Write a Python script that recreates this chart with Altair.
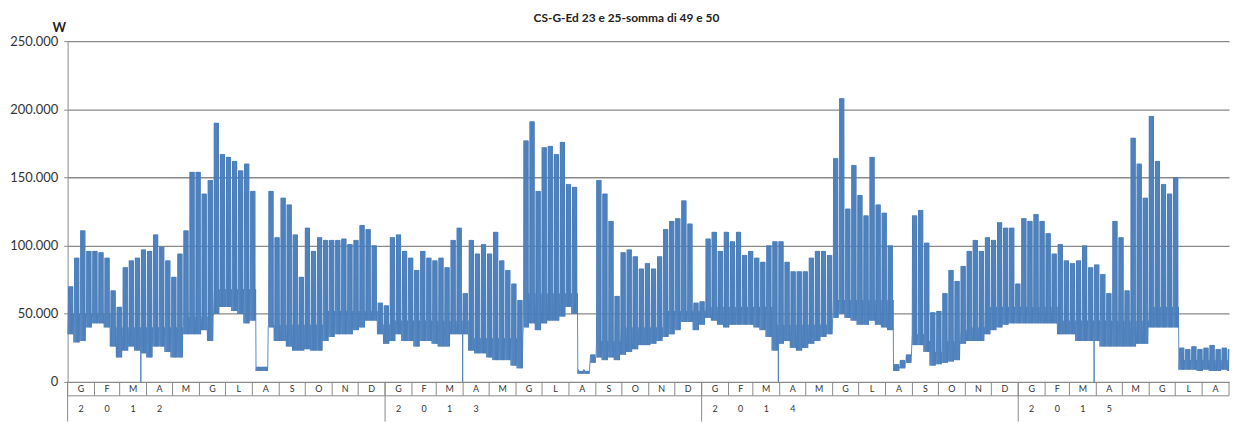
import altair as alt
import pandas as pd

TITLE = "CS-G-Ed 23 e 25-somma di 49 e 50"
START = "2012-01-01"
END = "2015-08-31"

# weekly values (kW), one entry per week starting Sunday 2012-01-01
PEAK_KW = [70, 91, 111, 96, 96, 95, 91, 67, 55, 84,
           89, 91, 97, 96, 108, 99, 89, 77, 94, 111,
           154, 154, 138, 148, 190, 167, 165, 162, 155, 160,
           140, 11, 11, 140, 106, 135, 130, 108, 77, 113,
           96, 106, 104, 104, 104, 105, 101, 104, 115, 112,
           100, 58, 56, 106, 108, 96, 91, 82, 96, 91,
           89, 91, 84, 104, 113, 65, 104, 94, 101, 94,
           110, 89, 82, 72, 60, 177, 191, 140, 172, 173,
           167, 176, 145, 143, 8, 8, 20, 148, 138, 118,
           63, 95, 97, 92, 83, 87, 83, 92, 112, 118,
           120, 133, 116, 58, 59, 105, 110, 96, 110, 103,
           110, 93, 96, 91, 88, 100, 103, 103, 88, 81,
           81, 81, 91, 96, 96, 93, 164, 208, 127, 159,
           137, 122, 165, 130, 124, 100, 13, 16, 20, 122,
           126, 102, 51, 52, 65, 82, 74, 85, 96, 104,
           96, 106, 104, 117, 113, 113, 72, 120, 118, 123,
           118, 109, 94, 101, 89, 87, 89, 100, 84, 86,
           79, 65, 118, 106, 67, 179, 160, 135, 195, 162,
           145, 138, 150, 25, 24, 26, 24, 25, 27, 24,
           25, 24]

LOW_KW = [35, 29, 30, 40, 43, 43, 40, 26, 18, 23,
          26, 23, 21, 18, 26, 26, 22, 18, 18, 35,
          35, 35, 38, 30, 50, 55, 55, 52, 50, 43,
          45, 8, 8, 40, 30, 30, 26, 23, 23, 24,
          23, 23, 30, 33, 35, 35, 35, 38, 40, 45,
          45, 35, 28, 30, 35, 30, 30, 26, 30, 30,
          28, 26, 26, 35, 35, 35, 23, 21, 21, 18,
          16, 16, 16, 12, 10, 40, 43, 38, 43, 45,
          45, 48, 55, 50, 6, 6, 14, 18, 16, 18,
          16, 20, 22, 24, 27, 27, 28, 30, 33, 35,
          38, 44, 44, 38, 42, 47, 45, 42, 40, 42,
          42, 42, 42, 40, 38, 33, 23, 28, 30, 25,
          23, 25, 28, 30, 33, 35, 47, 50, 47, 45,
          42, 42, 45, 42, 40, 38, 8, 10, 14, 27,
          27, 22, 12, 13, 14, 15, 16, 28, 30, 30,
          30, 35, 38, 40, 42, 43, 43, 43, 43, 43,
          43, 43, 43, 35, 35, 35, 30, 30, 30, 30,
          26, 26, 26, 26, 26, 26, 28, 28, 40, 40,
          40, 40, 40, 9, 9, 9, 8, 9, 8, 8,
          9, 8]

# weekend daytime level (top of the solid band)
MID_KW = [50, 50, 50, 50, 50, 50, 50, 40, 40, 40,
          40, 40, 40, 40, 40, 40, 40, 40, 40, 48,
          48, 48, 48, 48, 68, 68, 68, 68, 68, 68,
          68, 11, 11, 42, 42, 42, 42, 42, 42, 42,
          42, 42, 52, 52, 52, 52, 52, 52, 52, 52,
          52, 42, 42, 45, 45, 45, 45, 45, 45, 45,
          45, 45, 45, 45, 45, 45, 32, 32, 32, 32,
          32, 32, 32, 32, 32, 65, 65, 65, 65, 65,
          65, 65, 65, 65, 9, 9, 18, 30, 30, 30,
          30, 40, 40, 40, 40, 40, 40, 40, 52, 52,
          52, 52, 52, 52, 52, 55, 55, 55, 55, 55,
          55, 55, 55, 55, 55, 55, 42, 42, 42, 42,
          42, 42, 42, 42, 42, 42, 60, 60, 60, 60,
          60, 60, 60, 60, 60, 60, 11, 14, 18, 35,
          35, 30, 22, 22, 30, 30, 30, 38, 40, 40,
          40, 55, 55, 55, 55, 55, 55, 55, 55, 55,
          55, 55, 55, 45, 45, 45, 45, 45, 45, 45,
          45, 45, 45, 45, 45, 45, 45, 45, 55, 55,
          55, 55, 55, 16, 16, 16, 16, 16, 16, 16,
          16, 16]

DST_ZERO_DATES = ["2012-03-25", "2013-03-31", "2014-03-30", "2015-03-29"]
MONTH_LETTERS = ["G", "F", "M", "A", "M", "G", "L", "A", "S", "O", "N", "D"]
Y_TICKS = [0, 50000, 100000, 150000, 200000, 250000]

start = pd.Timestamp(START)
n_days = (pd.Timestamp(END) - start).days + 1
dst_days = {(pd.Timestamp(d) - start).days for d in DST_ZERO_DATES}

rows = []
for day in range(n_days):
    w = day // 7
    dow = day % 7  # 0 = Sunday, 6 = Saturday
    lo = LOW_KW[w] * 1000
    if dow in (0, 6):
        hi = MID_KW[w] * 1000
        rows.append({"day": day + 0.25, "W": lo})
        if day in dst_days:
            rows.append({"day": day + 0.45, "W": 0})
        rows.append({"day": day + 0.75, "W": hi})
    else:
        hi = PEAK_KW[w] * 1000
        rows.append({"day": day + 0.15, "W": hi})
        rows.append({"day": day + 0.5, "W": lo})
        rows.append({"day": day + 0.85, "W": hi})
series = pd.DataFrame(rows)

month_starts = pd.date_range(START, "2015-09-01", freq="MS")
bounds = [(m - start).days for m in month_starts]
months = pd.DataFrame({
    "day": bounds[:-1],
    "mid": [(a + b) / 2 for a, b in zip(bounds[:-1], bounds[1:])],
    "label": [MONTH_LETTERS[m.month - 1] for m in month_starts[:-1]],
})
sep = pd.DataFrame({"day": bounds})
year_starts = pd.DataFrame({"day": [(pd.Timestamp(f"{y}-01-01") - start).days for y in (2012, 2013, 2014, 2015)]})
ydig = []
for y in (2012, 2013, 2014, 2015):
    ms = months[[m.year == y for m in month_starts[:-1]]].reset_index(drop=True)
    for k, ch in enumerate(str(y)):
        ydig.append({"mid": ms.loc[k, "mid"], "label": ch})
ydig = pd.DataFrame(ydig)

W_PLOT = 1169
H_PLOT = 343
xscale = alt.Scale(domain=[0, n_days], nice=False, zero=False)
AX_GRAY = "#8a8a8a"
TXT = "#333333"

line = alt.Chart(series).mark_line(color="#4A7EBB", strokeWidth=0.9).encode(
    x=alt.X("day:Q", scale=xscale, axis=None),
    y=alt.Y("W:Q", scale=alt.Scale(domain=[0, 250000], nice=False),
            axis=alt.Axis(values=Y_TICKS, title="W", titleAngle=0, titleAlign="center",
                          titleBaseline="middle", titleX=-9, titleY=-14,
                          titleFont="Lato", titleFontSize=13, titleFontWeight="bold",
                          titleColor="#222222",
                          labelExpr="replace(format(datum.value, ','), ',', '.')",
                          labelFont="Lato", labelFontSize=13, labelColor=TXT, labelPadding=6,
                          tickSize=4, tickColor=AX_GRAY, domainColor=AX_GRAY,
                          gridColor=AX_GRAY, gridWidth=1.3)),
)

msep = alt.Chart(sep).mark_rule(color=AX_GRAY, strokeWidth=1).encode(
    x=alt.X("day:Q", scale=xscale), y=alt.value(H_PLOT), y2=alt.value(H_PLOT + 14))
ysep = alt.Chart(year_starts).mark_rule(color=AX_GRAY, strokeWidth=1).encode(
    x=alt.X("day:Q", scale=xscale), y=alt.value(H_PLOT), y2=alt.value(H_PLOT + 40))
hline = alt.Chart(pd.DataFrame({"k": [0]})).mark_rule(color=AX_GRAY, strokeWidth=1).encode(
    x=alt.value(0), x2=alt.value(W_PLOT), y=alt.value(H_PLOT + 14))
mtext = alt.Chart(months).mark_text(font="Lato", fontSize=9, color=TXT, baseline="middle").encode(
    x=alt.X("mid:Q", scale=xscale), y=alt.value(H_PLOT + 7), text="label:N")
ytext = alt.Chart(ydig).mark_text(font="Lato", fontSize=9, color=TXT, baseline="middle").encode(
    x=alt.X("mid:Q", scale=xscale), y=alt.value(H_PLOT + 27), text="label:N")

chart = alt.layer(line, msep, ysep, hline, mtext, ytext).properties(
    width=W_PLOT, height=H_PLOT,
    padding={"left": 60, "top": 32, "right": 2, "bottom": 40},
    autosize=alt.AutoSizeParams(type="none"),
    title=alt.Title(TITLE, font="Lato", fontSize=12, fontWeight="bold", color="#222222",
                    anchor="middle", offset=4, dy=8, dx=-22),
).configure_view(stroke=None).configure_axis(domainWidth=1)

chart.save("out.html", embed_options={"renderer": "svg", "actions": False})
